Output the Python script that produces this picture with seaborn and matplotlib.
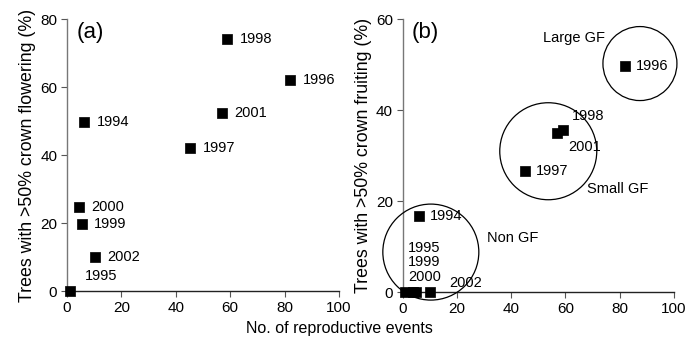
import matplotlib
matplotlib.use("Agg")
import matplotlib.pyplot as plt
import seaborn as sns
import pandas as pd

years = ["1994", "1995", "1996", "1997", "1998", "1999", "2000", "2001", "2002"]
events = [6.4, 1, 82, 45.2, 59, 5.4, 4.4, 57, 10.3]
flowering = [49.6, 0, 62, 42, 74.3, 19.7, 24.8, 52.3, 9.9]
events_b = [6, 1, 82, 45, 59.2, 5, 4, 56.8, 10]
fruiting = [16.7, 0, 49.8, 26.6, 35.7, 0, 0, 35.1, 0]

groups = ["Large GF", "Small GF", "Non GF"]
group_cx = [87.5, 53.7, 10.4]
group_cy = [50.3, 31.0, 8.8]
group_label_x = [51.7, 67.9, 31.0]
group_label_y = [55.9, 22.7, 11.9]

xticks = [0, 20, 40, 60, 80, 100]
yticks_a = [0, 20, 40, 60, 80]
yticks_b = [0, 20, 40, 60]

sns.set_theme(style="ticks")
plt.rcParams["font.family"] = ["Liberation Sans", "DejaVu Sans"]
plt.rcParams["text.color"] = "black"
plt.rcParams["axes.labelcolor"] = "black"

df_a = pd.DataFrame({"year": years, "x": events, "y": flowering})
df_b = pd.DataFrame({"year": years, "x": events_b, "y": fruiting})

fig = plt.figure(figsize=(6.99, 3.42), dpi=100)
ax1 = fig.add_axes([0.0959, 0.149, 0.389, 0.795])
ax2 = fig.add_axes([0.576, 0.146, 0.388, 0.797])

for ax, df, yt, ylab, tag in [
    (ax1, df_a, yticks_a, "Trees with >50% crown flowering (%)", "(a)"),
    (ax2, df_b, yticks_b, "Trees with >50% crown fruiting (%)", "(b)"),
]:
    sns.scatterplot(data=df, x="x", y="y", ax=ax, marker="s", s=50,
                    color="black", edgecolor="black", linewidth=0.5,
                    clip_on=False, zorder=5)
    ax.set_xlim(0, 100)
    ax.set_ylim(0, yt[-1])
    ax.set_xticks(xticks)
    ax.set_yticks(yt)
    ax.tick_params(labelsize=11, length=4, width=0.8, color="#555555",
                   labelcolor="black", pad=3)
    for s in ["top", "right"]:
        ax.spines[s].set_visible(False)
    ax.spines["left"].set_color("#777777")
    ax.spines["bottom"].set_color("#222222")
    ax.spines["left"].set_linewidth(1.0)
    ax.spines["bottom"].set_linewidth(1.0)
    ax.set_xlabel("")
    ax.set_ylabel(ylab, fontsize=12.8, labelpad=3, color="black")
    ax.text(0.035, 0.99, tag, transform=ax.transAxes, fontsize=16,
            ha="left", va="top", color="black")

# panel (a) year labels
offs_a = {"1995": (11, 11)}
for yr, x, y in zip(years, events, flowering):
    dx, dy = offs_a.get(yr, (9, 0))
    ax1.annotate(yr, (x, y), xytext=(dx, dy), textcoords="offset points",
                 fontsize=10.5, ha="left", va="center", color="black")

# panel (b) year labels
offs_b = {"1994": (8, 0), "1996": (8, 0), "1997": (8, 0),
          "1998": (6, 10), "2001": (8, -10)}
for yr, x, y in zip(years, events_b, fruiting):
    if yr in offs_b:
        dx, dy = offs_b[yr]
        ax2.annotate(yr, (x, y), xytext=(dx, dy), textcoords="offset points",
                     fontsize=10.5, ha="left", va="center", color="black")
stack = ["1995", "1999", "2000"]
for i, yr in enumerate(stack):
    ax2.annotate(yr, (2.1, 0), xytext=(0, 32 - i * 10.5),
                 textcoords="offset points", fontsize=10.5, ha="left",
                 va="center", color="black")
ax2.annotate("2002", (17.1, 0), xytext=(0, 6.5), textcoords="offset points",
             fontsize=10.5, ha="left", va="center", color="black")

# group circles
ax2.scatter(group_cx, group_cy, s=[(74 * 0.72) ** 2, (97 * 0.72) ** 2, (96 * 0.72) ** 2],
            facecolors="none", edgecolors="black", linewidths=0.9,
            clip_on=False, zorder=3)
for g, gx, gy in zip(groups, group_label_x, group_label_y):
    ax2.text(gx, gy, g, fontsize=10.5, ha="left", va="center", color="black")

fig.text(0.485, 0.04, "No. of reproductive events", fontsize=11.5,
         ha="center", va="center", color="black")

fig.savefig("out.png", dpi=100)
